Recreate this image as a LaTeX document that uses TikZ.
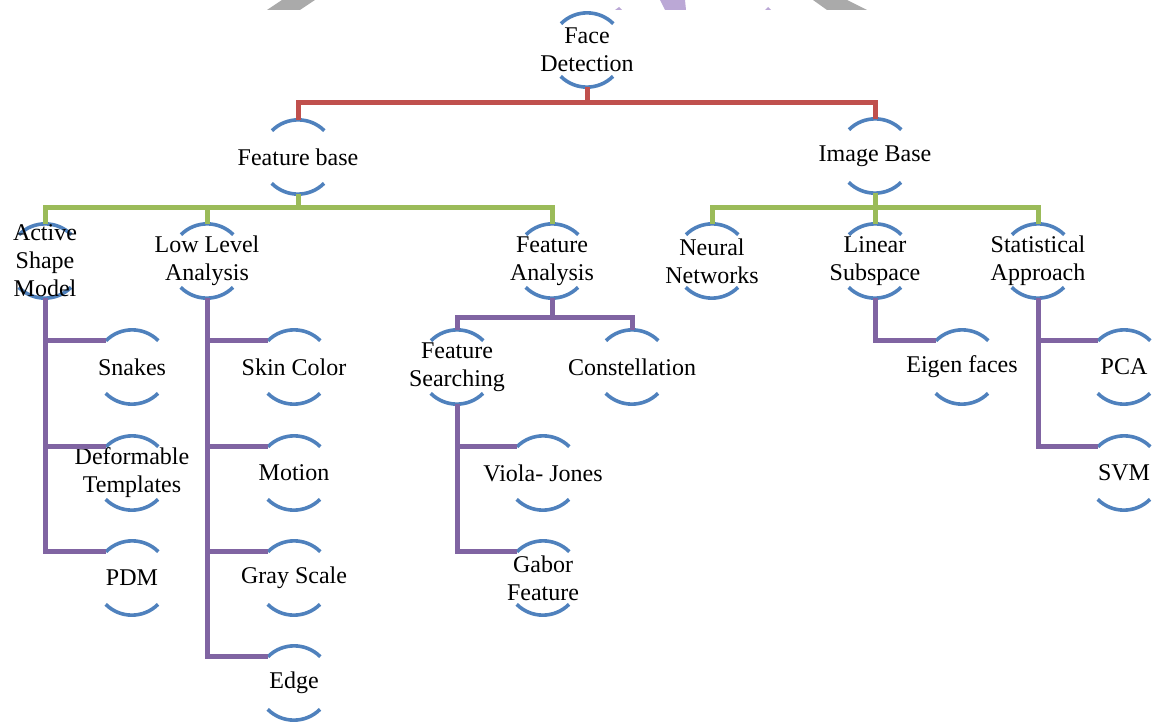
\documentclass[tikz,border=0pt]{standalone}
\usepackage{fontspec}
\setmainfont{Liberation Serif}
\definecolor{ringblue}{HTML}{4F81BD}
\definecolor{lred}{HTML}{C0504D}
\definecolor{lgreen}{HTML}{9BBB59}
\definecolor{lpurple}{HTML}{8064A2}
\definecolor{wmgrey}{HTML}{AAAAAA}
\definecolor{wmlav}{HTML}{BBA8D6}
\tikzset{
  ringnode/.style={circle, minimum size=74pt, inner sep=0pt, draw=none},
  lbl/.style={align=center, inner sep=0pt, font=\fontsize{24}{28}\selectfont, text=black},
  ringarc/.style={draw=ringblue, line width=3.6pt},
  redl/.style={draw=lred, line width=5pt, line join=miter},
  greenl/.style={draw=lgreen, line width=5pt, line join=miter},
  purpl/.style={draw=lpurple, line width=5pt, line join=miter},
}
\newcommand{\ringlabel}[3]{%
  \node[ringnode] (#1) at (#2) {};
  \draw[ringarc] (#1.45) arc (45:135:37pt);
  \draw[ringarc] (#1.225) arc (225:315:37pt);
  \node[lbl] (#1-t) at (#1.center) {#3};
}
\begin{document}
\begin{tikzpicture}[x=1pt,y=-1pt]
\useasboundingbox (0,0) rectangle (1156,722);
% watermark remnants
\fill[wmgrey] (282,0) -- (315,0) -- (300,10) -- (267,10) -- cycle;
\fill[wmlav] (615,10) -- (622,10) -- (619,7) -- cycle;
\fill[wmlav] (660,0) -- (685,0) -- (686,10) -- (665,10) -- cycle;
\fill[wmlav] (765,10) -- (771,10) -- (768,7) -- cycle;
\fill[wmgrey] (813,0) -- (847,0) -- (867,10) -- (827,10) -- cycle;
% bus coordinates
\coordinate (rbus) at (0,103);
\coordinate (gbus) at (0,208);
\coordinate (fabus) at (0,317);
\ringlabel{fd}{587,50}{Face\\Detection}
\ringlabel{fb}{298,157}{Feature base}
\ringlabel{ib}{875,156}{Image Base}
\ringlabel{asm}{45,261}{Active\\Shape\\Model}
\ringlabel{lla}{207,261}{Low Level\\Analysis}
\ringlabel{fa}{552,261}{Feature\\Analysis}
\ringlabel{nn}{712,261}{Neural\\Networks}
\ringlabel{ls}{875,261}{Linear\\Subspace}
\ringlabel{sa}{1038,261}{Statistical\\Approach}
\ringlabel{snk}{132,367}{Snakes}
\ringlabel{dt}{132,473}{Deformable\\Templates}
\ringlabel{pdm}{132,578}{PDM}
\ringlabel{skin}{294,367}{Skin Color}
\ringlabel{mot}{294,473}{Motion}
\ringlabel{gray}{294,578}{Gray Scale}
\ringlabel{edge}{294,683}{Edge}
\ringlabel{fs}{457,367}{Feature\\Searching}
\ringlabel{con}{632,367}{Constellation}
\ringlabel{vj}{543,473}{Viola- Jones}
\ringlabel{gf}{543,578}{Gabor\\Feature}
\ringlabel{ef}{962,367}{Eigen faces}
\ringlabel{pca}{1124,367}{PCA}
\ringlabel{svm}{1124,473}{SVM}
% red level
\draw[redl] (fd.south) -- (fd.south |- rbus);
\draw[redl] (fb.north) -- (fb.north |- rbus) -- (ib.north |- rbus) -- (ib.north);
% green level
\draw[greenl] (fb.south) -- (fb.south |- gbus);
\draw[greenl] (asm.north) -- (asm.north |- gbus) -- (fa.north |- gbus) -- (fa.north);
\draw[greenl] (lla.north) -- (lla.north |- gbus);
\draw[greenl] (ib.south) -- (ib.south |- gbus);
\draw[greenl] (nn.north) -- (nn.north |- gbus) -- (sa.north |- gbus) -- (sa.north);
\draw[greenl] (ls.north) -- (ls.north |- gbus);
% purple: Active Shape Model
\draw[purpl] (asm.south) -- (asm.south |- pdm.135) -- (pdm.135);
\draw[purpl] (asm.south |- snk.135) -- (snk.135);
\draw[purpl] (asm.south |- dt.135) -- (dt.135);
% purple: Low Level Analysis
\draw[purpl] (lla.south) -- (lla.south |- edge.135) -- (edge.135);
\draw[purpl] (lla.south |- skin.135) -- (skin.135);
\draw[purpl] (lla.south |- mot.135) -- (mot.135);
\draw[purpl] (lla.south |- gray.135) -- (gray.135);
% purple: Feature Analysis
\draw[purpl] (fa.south) -- (fa.south |- fabus);
\draw[purpl] (fs.north) -- (fs.north |- fabus) -- (con.north |- fabus) -- (con.north);
\draw[purpl] (fs.south) -- (fs.south |- gf.135) -- (gf.135);
\draw[purpl] (fs.south |- vj.135) -- (vj.135);
% purple: Linear Subspace / Statistical Approach
\draw[purpl] (ls.south) -- (ls.south |- ef.135) -- (ef.135);
\draw[purpl] (sa.south) -- (sa.south |- svm.135) -- (svm.135);
\draw[purpl] (sa.south |- pca.135) -- (pca.135);
\end{tikzpicture}
\end{document}
